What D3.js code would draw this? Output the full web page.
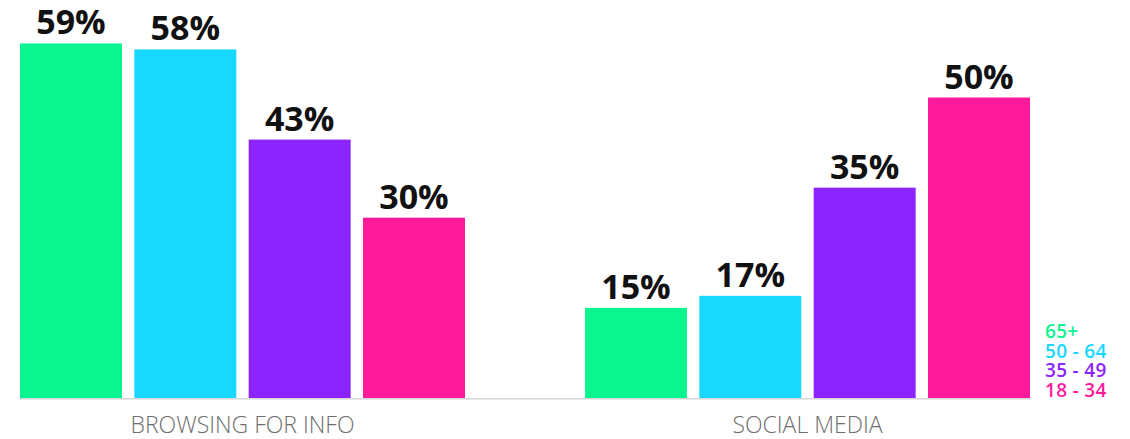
<!DOCTYPE html>
<html>
<head>
<meta charset="utf-8">
<script src="https://cdn.jsdelivr.net/npm/d3@7"></script>
<style>
  html, body { margin: 0; padding: 0; background: #ffffff; }
  svg { display: block; }
</style>
</head>
<body>
<svg id="chart" width="1130" height="439"></svg>
<script>
// Share of each age group, per activity (percent)
const categories = ["BROWSING FOR INFO", "SOCIAL MEDIA"];
const ageGroups = ["65+", "50 - 64", "35 - 49", "18 - 34"];
const browsingValues = [59, 58, 43, 30];
const socialValues = [15, 17, 35, 50];
const colors = ["#0af58f", "#19d8ff", "#8b24ff", "#ff1a9b"];

const seriesByCategory = [browsingValues, socialValues];

const svg = d3.select("#chart");
const baseY = 398;

const x0 = d3.scaleBand()
  .domain(categories)
  .range([20, 1030])
  .paddingInner(0.2124)
  .paddingOuter(0);

const x1 = d3.scaleBand()
  .domain(ageGroups)
  .range([0, x0.bandwidth()])
  .paddingInner(0.108)
  .paddingOuter(0);

const y = d3.scaleLinear()
  .domain([0, 60])
  .range([baseY, baseY - 60 * 6.01]);

const color = d3.scaleOrdinal().domain(ageGroups).range(colors);

// baseline
svg.append("line")
  .attr("x1", 20).attr("x2", 1030)
  .attr("y1", baseY + 0.75).attr("y2", baseY + 0.75)
  .attr("stroke", "#d6d6d6")
  .attr("stroke-width", 1.5);

const groups = svg.selectAll("g.cat")
  .data(categories.map((c, i) => ({ cat: c, values: seriesByCategory[i] })))
  .join("g")
  .attr("class", "cat")
  .attr("transform", d => `translate(${x0(d.cat)},0)`);

const bars = d => d.values.map((v, j) => ({ age: ageGroups[j], value: v }));

groups.selectAll("rect")
  .data(bars)
  .join("rect")
  .attr("x", d => x1(d.age))
  .attr("y", d => y(d.value))
  .attr("width", x1.bandwidth())
  .attr("height", d => baseY - y(d.value))
  .attr("fill", d => color(d.age));

groups.selectAll("text.val")
  .data(bars)
  .join("text")
  .attr("class", "val")
  .attr("x", d => x1(d.age) + x1.bandwidth() / 2)
  .attr("y", d => y(d.value) - 9)
  .attr("text-anchor", "middle")
  .attr("font-family", "'Open Sans', sans-serif")
  .attr("font-weight", 700)
  .attr("font-size", 34)
  .attr("fill", "#111111")
  .text(d => d.value + "%");

// category labels
groups.append("text")
  .attr("x", x0.bandwidth() / 2)
  .attr("y", 433)
  .attr("text-anchor", "middle")
  .attr("font-family", "'Open Sans', sans-serif")
  .attr("font-weight", 300)
  .attr("font-size", 23)
  .attr("fill", "#6e6e6e")
  .text(d => d.cat);

// legend
svg.append("g")
  .selectAll("text")
  .data(ageGroups)
  .join("text")
  .attr("x", 1045)
  .attr("y", (d, i) => 338 + i * 19.7)
  .attr("font-family", "'Open Sans', sans-serif")
  .attr("font-weight", 600)
  .attr("font-size", 19)
  .attr("letter-spacing", 0.3)
  .attr("fill", d => color(d))
  .text(d => d);
</script>
</body>
</html>
